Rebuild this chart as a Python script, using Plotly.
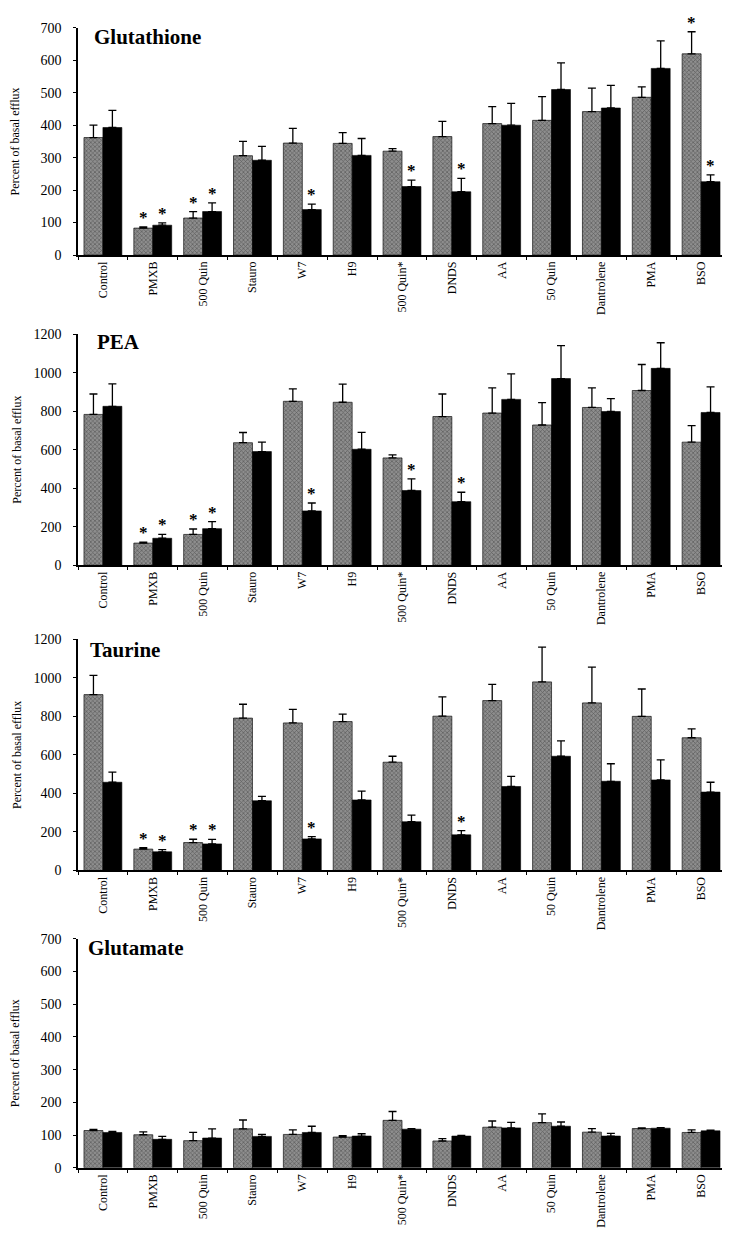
import plotly.graph_objects as go

# categorias (eixo x)
categorias = ["Control", "PMXB", "500 Quin", "Stauro", "W7", "H9", "500 Quin*",
              "DNDS", "AA", "50 Quin", "Dantrolene", "PMA", "BSO"]

# Glutathione
gsh_cinza = [362, 83, 114, 306, 345, 344, 320, 365, 405, 415, 442, 486, 620]
gsh_cinza_err = [38, 4, 20, 44, 45, 33, 8, 47, 52, 73, 72, 32, 68]
gsh_preto = [393, 92, 134, 292, 140, 307, 211, 195, 400, 510, 453, 575, 226]
gsh_preto_err = [53, 7, 27, 43, 17, 52, 20, 41, 67, 82, 70, 85, 21]
gsh_cinza_sig = [0, 1, 1, 0, 0, 0, 0, 0, 0, 0, 0, 0, 1]
gsh_preto_sig = [0, 1, 1, 0, 1, 0, 1, 1, 0, 0, 0, 0, 1]

# PEA
pea_cinza = [783, 115, 160, 636, 851, 846, 557, 772, 790, 728, 819, 907, 639]
pea_cinza_err = [106, 5, 28, 53, 65, 94, 16, 117, 131, 116, 102, 135, 86]
pea_preto = [825, 140, 190, 590, 282, 602, 388, 330, 861, 969, 798, 1022, 793]
pea_preto_err = [117, 20, 36, 49, 41, 88, 60, 49, 132, 171, 67, 133, 133]
pea_cinza_sig = [0, 1, 1, 0, 0, 0, 0, 0, 0, 0, 0, 0, 0]
pea_preto_sig = [0, 1, 1, 0, 1, 0, 1, 1, 0, 0, 0, 0, 0]

# Taurine
tau_cinza = [913, 111, 145, 791, 766, 773, 562, 801, 882, 979, 870, 800, 689]
tau_cinza_err = [100, 7, 17, 72, 70, 39, 31, 100, 84, 180, 186, 142, 46]
tau_preto = [458, 97, 138, 362, 164, 366, 253, 185, 436, 593, 463, 470, 407]
tau_preto_err = [53, 11, 23, 23, 12, 46, 34, 22, 53, 80, 91, 104, 51]
tau_cinza_sig = [0, 1, 1, 0, 0, 0, 0, 0, 0, 0, 0, 0, 0]
tau_preto_sig = [0, 1, 1, 0, 1, 0, 0, 1, 0, 0, 0, 0, 0]

# Glutamate
glu_cinza = [114, 101, 83, 119, 102, 94, 145, 82, 124, 138, 109, 120, 108]
glu_cinza_err = [3, 9, 25, 27, 14, 4, 27, 7, 19, 27, 11, 2, 8]
glu_preto = [108, 87, 91, 96, 108, 97, 118, 97, 122, 127, 97, 121, 113]
glu_preto_err = [3, 9, 28, 6, 19, 7, 2, 2, 17, 13, 8, 2, 2]
glu_cinza_sig = [0] * 13
glu_preto_sig = [0] * 13

paineis = [
    ("Glutathione", gsh_cinza, gsh_cinza_err, gsh_preto, gsh_preto_err,
     gsh_cinza_sig, gsh_preto_sig, 700, 100),
    ("PEA", pea_cinza, pea_cinza_err, pea_preto, pea_preto_err,
     pea_cinza_sig, pea_preto_sig, 1200, 200),
    ("Taurine", tau_cinza, tau_cinza_err, tau_preto, tau_preto_err,
     tau_cinza_sig, tau_preto_sig, 1200, 200),
    ("Glutamate", glu_cinza, glu_cinza_err, glu_preto, glu_preto_err,
     glu_cinza_sig, glu_preto_sig, 700, 100),
]

# posicao vertical de cada painel em pixels (zero, topo)
H, W = 1235, 730
px_paineis = [(243, 13), (557, 323), (866, 632), (1167, 935)]
titulo_px = [(84, 22), (87, 331), (80, 643), (78, 944)]
standoff_titulo = [20, 9, 9, 20]

fonte = "Liberation Serif, Times New Roman, serif"
fig = go.Figure()
anots = []

for i, (nome, cz, cz_e, pt, pt_e, cz_s, pt_s, ymax, dt) in enumerate(paineis):
    n = "" if i == 0 else str(i + 1)
    xa, ya = "x" + n, "y" + n

    fig.add_trace(go.Bar(
        x=categorias, y=cz, xaxis=xa, yaxis=ya,
        marker=dict(color="#6e6e6e", line=dict(color="#111", width=0.7),
                    pattern=dict(shape="x", fgcolor="#2a2a2a", bgcolor="#8e8e8e",
                                 size=3, solidity=0.4)),
        error_y=dict(type="data", symmetric=False, array=cz_e,
                     arrayminus=[0] * 13, color="black", thickness=1.3, width=4),
        showlegend=False,
    ))
    fig.add_trace(go.Bar(
        x=categorias, y=pt, xaxis=xa, yaxis=ya,
        marker=dict(color="black", line=dict(color="black", width=0.6)),
        error_y=dict(type="data", symmetric=False, array=pt_e,
                     arrayminus=[0] * 13, color="black", thickness=1.3, width=4),
        showlegend=False,
    ))

    # asteriscos de significancia
    for lista_v, lista_e, lista_s, desloc in ((cz, cz_e, cz_s, -9.5), (pt, pt_e, pt_s, 9.5)):
        for c, v, e, s in zip(categorias, lista_v, lista_e, lista_s):
            if s:
                anots.append(dict(x=c, y=v + e, xref=xa, yref=ya, text="<b>*</b>",
                                  showarrow=False, xshift=desloc, yshift=-2,
                                  yanchor="bottom",
                                  font=dict(family=fonte, size=17, color="#000000")))

    # titulo do painel
    tx, ty = titulo_px[i]
    anots.append(dict(x=tx / W, y=1 - ty / H, xref="paper", yref="paper",
                      text="<b>" + nome + "</b>", showarrow=False,
                      xanchor="left", yanchor="middle",
                      font=dict(family=fonte, size=21, color="black")))

    y0, y1 = px_paineis[i]
    eixo_x = dict(domain=[70 / W, 718 / W], anchor=ya, showline=True,
                  linecolor="black", linewidth=1.5, ticks="outside",
                  tickson="boundaries", ticklen=3, tickcolor="black",
                  tickangle=-90, showgrid=False,
                  tickfont=dict(family=fonte, size=12, color="black"),
                  range=[-0.5, 12.5])
    eixo_y = dict(domain=[1 - y0 / H, 1 - y1 / H], anchor=xa, range=[0, ymax],
                  dtick=dt, showline=True, linecolor="black", linewidth=1.5,
                  ticks="outside", ticklen=3, tickcolor="black", showgrid=False,
                  zeroline=False, ticklabelstandoff=9,
                  tickfont=dict(family=fonte, size=14, color="black"),
                  title=dict(text="Percent of basal efflux", standoff=standoff_titulo[i],
                             font=dict(family=fonte, size=12, color="black")))
    fig.update_layout({"xaxis" + n: eixo_x, "yaxis" + n: eixo_y})

fig.update_layout(
    width=W, height=H,
    margin=dict(l=0, r=0, t=0, b=0),
    barmode="group", bargap=0.24, bargroupgap=0,
    plot_bgcolor="white", paper_bgcolor="white",
    annotations=anots,
)

fig.write_html("out.html")
